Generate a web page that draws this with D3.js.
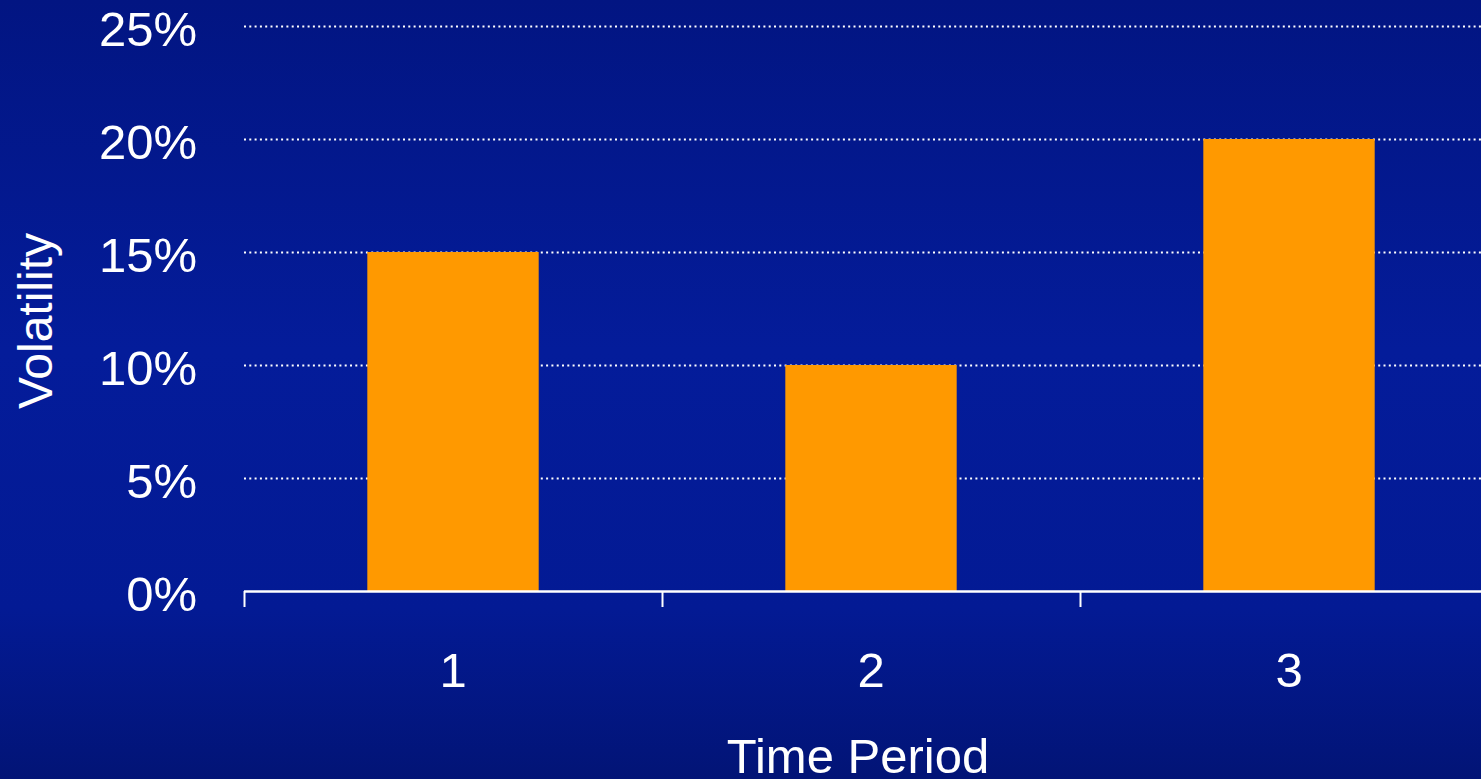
<!DOCTYPE html>
<html>
<head>
<meta charset="utf-8">
<script src="https://cdn.jsdelivr.net/npm/d3@7"></script>
<style>
  html, body { margin: 0; padding: 0; overflow: hidden; background: #031889; }
  svg { display: block; }
  text { font-family: "Liberation Sans", Arial, sans-serif; fill: #ffffff; }
</style>
</head>
<body>
<svg id="chart" width="1481" height="779"></svg>
<script>
// Volatility by time period
const periods = ["1", "2", "3"];
const volatility = [0.15, 0.10, 0.20];
const yTicks = [0, 0.05, 0.10, 0.15, 0.20, 0.25];

const W = 1481, H = 779;
const svg = d3.select("#chart");

// Background: deep blue vertical gradient
const defs = svg.append("defs");
const grad = defs.append("linearGradient")
  .attr("id", "bg").attr("x1", 0).attr("y1", 0).attr("x2", 0).attr("y2", 1);
grad.append("stop").attr("offset", "0%").attr("stop-color", "#021582");
grad.append("stop").attr("offset", "45%").attr("stop-color", "#041c9a");
grad.append("stop").attr("offset", "78%").attr("stop-color", "#031a94");
grad.append("stop").attr("offset", "100%").attr("stop-color", "#021476");
svg.append("rect").attr("width", W).attr("height", H).attr("fill", "url(#bg)");

const left = 244, step = 418;
const plotTop = 26, plotBottom = 591;

// Category cells (ticks at cell boundaries, labels at centers)
const cell = d3.scaleBand().domain(periods).range([left, left + step * periods.length]).padding(0);
// Bars sit centered in each cell
const xBar = d3.scaleBand().domain(periods)
  .range([left, left + step * periods.length])
  .paddingInner(0.59).paddingOuter(0.295);

const y = d3.scaleLinear().domain([0, 0.25]).range([plotBottom, plotTop]);

// Dotted gridlines
svg.append("g")
  .selectAll("line")
  .data(yTicks.filter(d => d > 0))
  .join("line")
  .attr("x1", left).attr("x2", W)
  .attr("y1", d => Math.round(y(d)) + 0.5).attr("y2", d => Math.round(y(d)) + 0.5)
  .attr("stroke", "#ffffff").attr("stroke-width", 2)
  .attr("stroke-dasharray", "2,3.3");

// Bars
svg.append("g")
  .selectAll("rect")
  .data(periods.map((p, i) => ({ p, v: volatility[i] })))
  .join("rect")
  .attr("x", d => xBar(d.p))
  .attr("width", xBar.bandwidth())
  .attr("y", d => y(d.v))
  .attr("height", d => y(0) - y(d.v))
  .attr("fill", "#ff9900");

// Y axis labels
const yAxis = d3.axisLeft(y).tickValues(yTicks).tickFormat(d3.format(".0%")).tickSize(0).tickPadding(0);
const gy = svg.append("g").attr("transform", "translate(197,0)").call(yAxis);
gy.select(".domain").remove();
gy.selectAll("text")
  .attr("font-size", 49).attr("fill", "#ffffff")
  .attr("font-family", "'Liberation Sans', Arial, sans-serif")
  .attr("dy", "0.4em");

// X axis: baseline, boundary ticks, centered labels
svg.append("line")
  .attr("x1", left).attr("x2", W)
  .attr("y1", plotBottom + 0.5).attr("y2", plotBottom + 0.5)
  .attr("stroke", "#ffffff").attr("stroke-width", 2.5);

svg.append("g")
  .selectAll("line")
  .data(periods)
  .join("line")
  .attr("x1", d => cell(d) + 0.5).attr("x2", d => cell(d) + 0.5)
  .attr("y1", plotBottom).attr("y2", plotBottom + 16)
  .attr("stroke", "#ffffff").attr("stroke-width", 2);

const xAxis = d3.axisBottom(cell).tickSize(0).tickPadding(0);
const gx = svg.append("g").attr("transform", `translate(0,${plotBottom})`).call(xAxis);
gx.select(".domain").remove();
gx.selectAll("text")
  .attr("font-size", 49).attr("fill", "#ffffff")
  .attr("font-family", "'Liberation Sans', Arial, sans-serif")
  .attr("dy", null).attr("y", 96);

// Axis titles
svg.append("text")
  .attr("x", 858).attr("y", 773)
  .attr("text-anchor", "middle")
  .attr("font-size", 49)
  .text("Time Period");

svg.append("text")
  .attr("transform", "translate(52,321) rotate(-90)")
  .attr("text-anchor", "middle")
  .attr("font-size", 48)
  .text("Volatility");
</script>
</body>
</html>
